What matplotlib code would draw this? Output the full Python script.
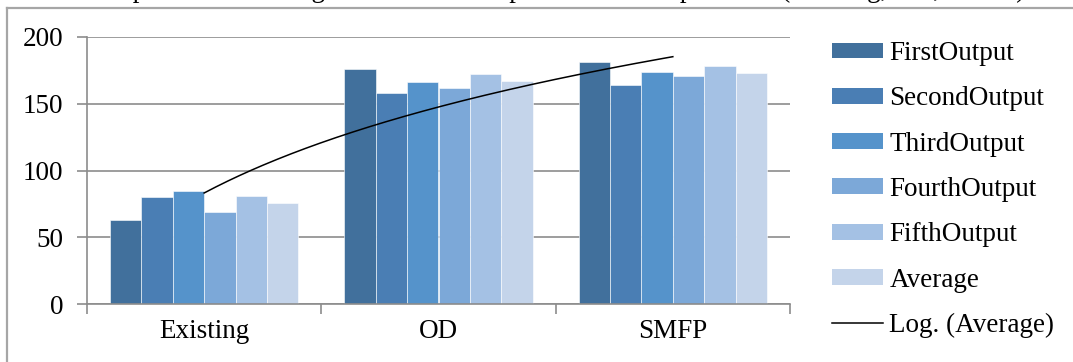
import numpy as np
import matplotlib.pyplot as plt
from matplotlib.lines import Line2D
from matplotlib.patches import Patch

plt.rcParams['font.family'] = ['Liberation Serif', 'DejaVu Serif']

categories = ['Existing', 'OD', 'SMFP']
series_names = ['FirstOutput', 'SecondOutput', 'ThirdOutput',
                'FourthOutput', 'FifthOutput', 'Average']
first_output = [63, 176, 181]
second_output = [80, 158, 164]
third_output = [85, 166, 174]
fourth_output = [69, 162, 171]
fifth_output = [81, 172, 178]
average = [76, 167, 173]
yticks = [0, 50, 100, 150, 200]

colors = ['#41709C', '#4A7EB4', '#5593CB', '#7CA8D8', '#A4C1E4', '#C4D4EA']
grey = '#8C8C8C'
fs = 19.5

W, H = 1073, 362
fig = plt.figure(figsize=(W / 100, H / 100), dpi=100)
ax = fig.add_axes([87 / W, 58 / H, 703 / W, 267 / H])

values = [first_output, second_output, third_output,
          fourth_output, fifth_output, average]
centers = np.arange(len(categories)) + 0.5
bw = 0.803 / len(values)
for i, (name, vals) in enumerate(zip(series_names, values)):
    x = centers + (i - (len(values) - 1) / 2) * bw
    ax.bar(x, vals, bw, color=colors[i], edgecolor='white', linewidth=0.4,
           label=name, zorder=2)

# logarithmic trendline through the Average series (x = 1, 2, 3 like Excel)
xs = np.arange(1, len(average) + 1)
a, b = np.polyfit(np.log(xs), average, 1)
xt = np.linspace(1, len(average), 200)
ax.plot(xt - 0.5, a * np.log(xt) + b, color='black', linewidth=1.1, zorder=3)

ax.set_xlim(0, len(categories))
ax.set_ylim(0, 200)
ax.set_yticks(yticks)
ax.set_yticklabels([str(t) for t in yticks], fontsize=fs)
ax.yaxis.grid(True, color=grey, linewidth=1.2, zorder=0)
ax.set_axisbelow(True)

ax.set_xticks(np.arange(len(categories) + 1))
ax.set_xticklabels([])
ax.set_xticks(centers, minor=True)
ax.set_xticklabels(categories, minor=True, fontsize=fs)
ax.tick_params(axis='x', which='minor', length=0, pad=11)
ax.tick_params(axis='x', which='major', length=7, width=1.2, color=grey, direction='out')
ax.tick_params(axis='y', length=7, width=1.2, color=grey, direction='out', pad=10)

for side in ['top', 'right']:
    ax.spines[side].set_visible(False)
for side in ['left', 'bottom']:
    ax.spines[side].set_color(grey)
    ax.spines[side].set_linewidth(1.2)

handles = [Patch(facecolor=c, edgecolor='none') for c in colors]
handles.append(Line2D([0], [0], color='black', linewidth=1.1))
labels = series_names + ['Log. (Average)']
fig.legend(handles, labels, loc='upper left', bbox_to_anchor=(832 / W, 1 - 41 / H),
           frameon=False, fontsize=fs, handlelength=1.9, handleheight=0.52,
           handletextpad=0.22, labelspacing=0.75, borderpad=0, borderaxespad=0)

# chart title sits above the visible area
fig.text(0.515, 1 + 3 / H, 'Comparison of Average Number of Outputs in Each Replication (Existing, OD, SMFP)',
         ha='center', va='baseline', fontsize=fs)

# outer chart frame
fig.add_artist(Line2D([7 / W, 7 / W], [0, 1 - 8 / H], color='#A6A6A6', linewidth=1.6))
fig.add_artist(Line2D([7 / W, 1], [1 - 8 / H, 1 - 8 / H], color='#A6A6A6', linewidth=1.6))

fig.savefig('out.png', dpi=100)
